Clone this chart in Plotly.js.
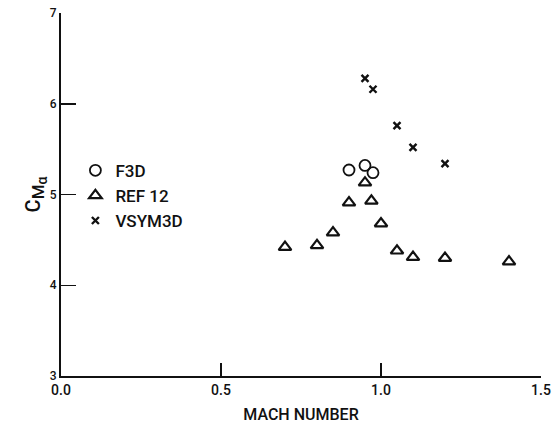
<!DOCTYPE html>
<html>
<head>
<meta charset="utf-8">
<script src="https://cdn.plot.ly/plotly-3.0.1.min.js"></script>
<style>html,body{margin:0;padding:0;background:#fff;}#chart{width:554px;height:433px;}</style>
</head>
<body>
<div id="chart"></div>
<script>
// Data
const f3dMach = [0.9, 0.95, 0.975];
const f3dCma  = [5.27, 5.32, 5.24];

const ref12Mach = [0.7, 0.8, 0.85, 0.9, 0.95, 0.97, 1.0, 1.05, 1.1, 1.2, 1.4];
const ref12Cma  = [4.42, 4.44, 4.58, 4.91, 5.13, 4.93, 4.68, 4.38, 4.31, 4.30, 4.26];

const vsymMach = [0.95, 0.975, 1.05, 1.1, 1.2];
const vsymCma  = [6.28, 6.16, 5.76, 5.52, 5.34];

const xTicks = [0.0, 0.5, 1.0, 1.5];
const xTickLabels = ["0.0", "0.5", "1.0", "1.5"];
const yTicks = [3, 4, 5, 6, 7];
const yTickLabels = ["3", "4", "5", "6", "7"];

const fontFam = "Roboto, DejaVu Sans, sans-serif";
const ink = "#111";

const traces = [
  {x: f3dMach, y: f3dCma, name: "F3D", type: "scatter", mode: "markers", legendgroup: "a",
   marker: {symbol: "circle-open", size: 11, color: ink, line: {width: 1.8, color: ink}}},
  {x: ref12Mach, y: ref12Cma, name: "REF 12", type: "scatter", mode: "markers", legendgroup: "b",
   marker: {symbol: "triangle-up-open", size: 11, color: ink, line: {width: 2.2, color: ink}}},
  {x: vsymMach, y: vsymCma, name: "VSYM3D", type: "scatter", mode: "markers", legendgroup: "c",
   marker: {symbol: "x-thin-open", size: 7, color: ink, line: {width: 2.4, color: ink}}}
];

const layout = {
  width: 554, height: 433,
  margin: {l: 61, r: 13, t: 13, b: 57},
  paper_bgcolor: "#fff", plot_bgcolor: "#fff",
  showlegend: true,
  legend: {x: 0.03, y: 0.615, xanchor: "left", yanchor: "top",
           bgcolor: "rgba(0,0,0,0)", tracegroupgap: 0, itemwidth: 30,
           font: {family: fontFam, size: 17, weight: 500, color: ink}},
  xaxis: {range: [0, 1.5], tickvals: xTicks, ticktext: xTickLabels,
          ticks: "inside", ticklen: 13, tickwidth: 1.5, tickcolor: ink,
          showline: true, linewidth: 2, linecolor: ink, showgrid: false, zeroline: false,
          tickfont: {family: fontFam, size: 14, weight: 500, color: ink},
          title: {text: "MACH NUMBER", font: {family: fontFam, size: 16, weight: 500, color: ink}, standoff: 12}},
  yaxis: {range: [3, 7], tickvals: yTicks, ticktext: yTickLabels,
          ticks: "inside", ticklen: 15, tickwidth: 1.5, tickcolor: ink,
          showline: true, linewidth: 2, linecolor: ink, showgrid: false, zeroline: false,
          tickfont: {family: fontFam, size: 12, weight: 500, color: ink},
          title: {text: "C<sub><span style='font-size:17px'>M</span><sub><span style='font-size:14px'>α</span></sub></sub>",
                  font: {family: fontFam, size: 20, weight: 500, color: ink}, standoff: 4}}
};

Plotly.newPlot("chart", traces, layout, {displayModeBar: false, staticPlot: true});
</script>
</body>
</html>
